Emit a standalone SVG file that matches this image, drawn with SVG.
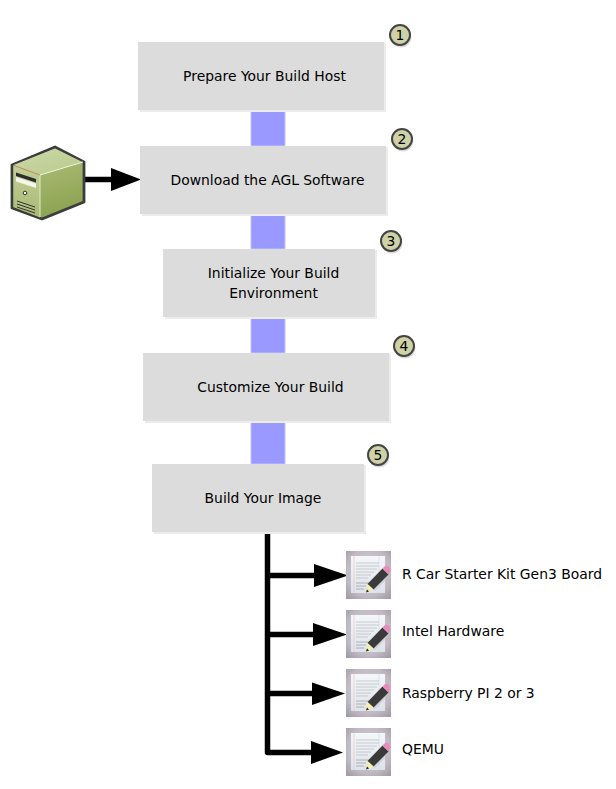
<svg xmlns="http://www.w3.org/2000/svg" width="616" height="789" viewBox="0 0 616 789">
<defs>
<style>
.box{fill:#dcdcdc}
.sh{fill:#ececec}
.bar{fill:#9999ff;stroke:#c2c2ff;stroke-width:1}
.t{font-family:"DejaVu Sans",sans-serif;font-size:13.9px;fill:#000;text-anchor:middle}
.l{font-family:"DejaVu Sans",sans-serif;font-size:13.9px;fill:#000}
.c{fill:#cfd2a6;stroke:#444;stroke-width:2}
.cs{fill:#dadada}
.n{font-family:"DejaVu Sans",sans-serif;font-size:13.9px;fill:#000;text-anchor:middle}
.w{stroke:#000;stroke-width:5.500;fill:none;stroke-linejoin:round}
</style>
<radialGradient id="dg" cx="0.5" cy="0.45" r="0.7"><stop offset="0" stop-color="#dcd6dc"/><stop offset="0.7" stop-color="#c0b8c2"/><stop offset="1" stop-color="#a39ba6"/></radialGradient>
<linearGradient id="pg" x1="0" y1="0" x2="0" y2="1"><stop offset="0" stop-color="#f5f7f9"/><stop offset="1" stop-color="#dde3e9"/></linearGradient>
<linearGradient id="rf" x1="0" y1="0" x2="0.3" y2="1"><stop offset="0" stop-color="#b4c482"/><stop offset="1" stop-color="#8fa453"/></linearGradient>
<linearGradient id="tf" x1="0" y1="0" x2="1" y2="1"><stop offset="0" stop-color="#ccd9a8"/><stop offset="1" stop-color="#b9c98d"/></linearGradient>
<linearGradient id="lf" x1="0" y1="0" x2="0" y2="1"><stop offset="0" stop-color="#c3cf97"/><stop offset="1" stop-color="#a9ba73"/></linearGradient>
<g id="doc">
<rect x="0" y="0" width="45" height="48" fill="url(#dg)"/>
<rect x="5" y="5" width="34" height="37" fill="url(#pg)"/>
<path d="M8 5V42" stroke="#eec4c4" stroke-width="0.7"/>
<path d="M33 5V42" stroke="#cfdcf0" stroke-width="0.7"/>
<path d="M10 12H33M10 15H33M10 18H31M10 21H28M10 24H25M10 27H22" stroke="#bcc0c4" stroke-width="0.8"/>
<path d="M10 32H24M10 35H20M10 38H18" stroke="#9ea3a8" stroke-width="0.8"/>
<path d="M23 35L38 20L44 25L29 40Z" fill="#c4c4c8" opacity="0.6"/>
<path d="M21.500 33L36.500 17.500L42.500 23.500L27.500 38.500Z" fill="#3a3a3a"/>
<path d="M36.500 17.500L39 15Q41 14 43 16Q45 18 44 20.500L42.500 23.500Z" fill="#e88bbd"/>
<path d="M21.500 33L27.500 38.500L20 41.500Z" fill="#f2eeae"/>
<path d="M20 41.500L21 38.500L23 40.500Z" fill="#222"/>
</g>
</defs>
<g id="connectors">
<rect class="bar" x="251" y="111" width="34" height="35"/>
<rect class="bar" x="251" y="215" width="34" height="34"/>
<rect class="bar" x="251" y="318" width="34" height="35"/>
<rect class="bar" x="251" y="422" width="34" height="42"/>
<path class="w" d="M84 179.500H112"/>
<path d="M111 168L141 179.500L111 191Z"/>
<path class="w" d="M267.500 533V752.500H313"/>
<path class="w" d="M267.500 575.500H315M267.500 634.500H314M267.500 693.500H313"/>
<path d="M314 564L348 575.500L314 587Z"/>
<path d="M313 623L347 634.500L313 646Z"/>
<path d="M312 682.500L345 693.500L312 705Z"/>
<path d="M311 741L343 752.500L311 764Z"/>
</g>
<g id="server">
<path d="M12 165L55 147L84 162V202L42 219L12 208Z" fill="url(#rf)" stroke="#3c3c3c" stroke-width="2.800" stroke-linejoin="round"/>
<path d="M13.500 165L55 148.500L82.500 162L40 175Z" fill="url(#tf)"/>
<path d="M13.500 165L40 175V217.500L13.500 207Z" fill="url(#lf)"/>
<path d="M40 175V217" stroke="#e2eacb" stroke-width="1"/>
<path d="M40 175L83 162" stroke="#f1f5e2" stroke-width="1" fill="none"/>
<path d="M14 165.500L40 175" stroke="#c08a64" stroke-width="1" fill="none"/>
<path d="M16 172.500L36 179V182.500L16 176Z" fill="#2c2c2c"/>
<path d="M16 177L36 183.500V188L16 181.500Z" fill="#f5f5ea"/>
<circle cx="25" cy="193" r="1.800" fill="#fff" stroke="#333"/>
<path d="M17 201L35 207M17 204L35 210M17 207L35 213" stroke="#333" stroke-width="1"/>
</g>
<g id="step1">
<rect class="sh" x="140" y="43" width="246" height="69"/>
<rect class="box" x="138" y="42" width="246" height="68"/>
<text class="t" x="264.500" y="81">Prepare Your Build Host</text>
<circle class="cs" cx="401" cy="37" r="10.500"/><circle class="c" cx="400" cy="35" r="10"/>
<text class="n" x="400" y="40">1</text>
</g>
<g id="step2">
<rect class="sh" x="142" y="147" width="246" height="69"/>
<rect class="box" x="140" y="146" width="246" height="68"/>
<text class="t" x="267.500" y="185">Download the AGL Software</text>
<circle class="cs" cx="403" cy="141" r="10.500"/><circle class="c" cx="402" cy="139" r="10"/>
<text class="n" x="402" y="144">2</text>
</g>
<g id="step3">
<rect class="sh" x="165" y="250" width="212" height="69"/>
<rect class="box" x="163" y="249" width="212" height="68"/>
<text class="t" x="273.500" y="278">Initialize Your Build</text>
<text class="t" x="273.500" y="298">Environment</text>
<circle class="cs" cx="392" cy="243" r="10.500"/><circle class="c" cx="391" cy="241" r="10"/>
<text class="n" x="391" y="246">3</text>
</g>
<g id="step4">
<rect class="sh" x="145" y="354" width="246" height="69"/>
<rect class="box" x="143" y="353" width="246" height="68"/>
<text class="t" x="270.500" y="392">Customize Your Build</text>
<circle class="cs" cx="405" cy="348" r="10.500"/><circle class="c" cx="404" cy="346" r="10"/>
<text class="n" x="404" y="351">4</text>
</g>
<g id="step5">
<rect class="sh" x="154" y="465" width="212" height="69"/>
<rect class="box" x="152" y="464" width="212" height="68"/>
<text class="t" x="263" y="503">Build Your Image</text>
<circle class="cs" cx="379" cy="457" r="10.500"/><circle class="c" cx="378" cy="455" r="10"/>
<text class="n" x="378" y="460">5</text>
</g>
<g id="target1"><use href="#doc" x="346" y="551"/><text class="l" x="402" y="579">R Car Starter Kit Gen3 Board</text></g>
<g id="target2"><use href="#doc" x="346" y="610"/><text class="l" x="402" y="636">Intel Hardware</text></g>
<g id="target3"><use href="#doc" x="346" y="669"/><text class="l" x="402" y="698">Raspberry PI 2 or 3</text></g>
<g id="target4"><use href="#doc" x="346" y="728"/><text class="l" x="402" y="754">QEMU</text></g>
</svg>
